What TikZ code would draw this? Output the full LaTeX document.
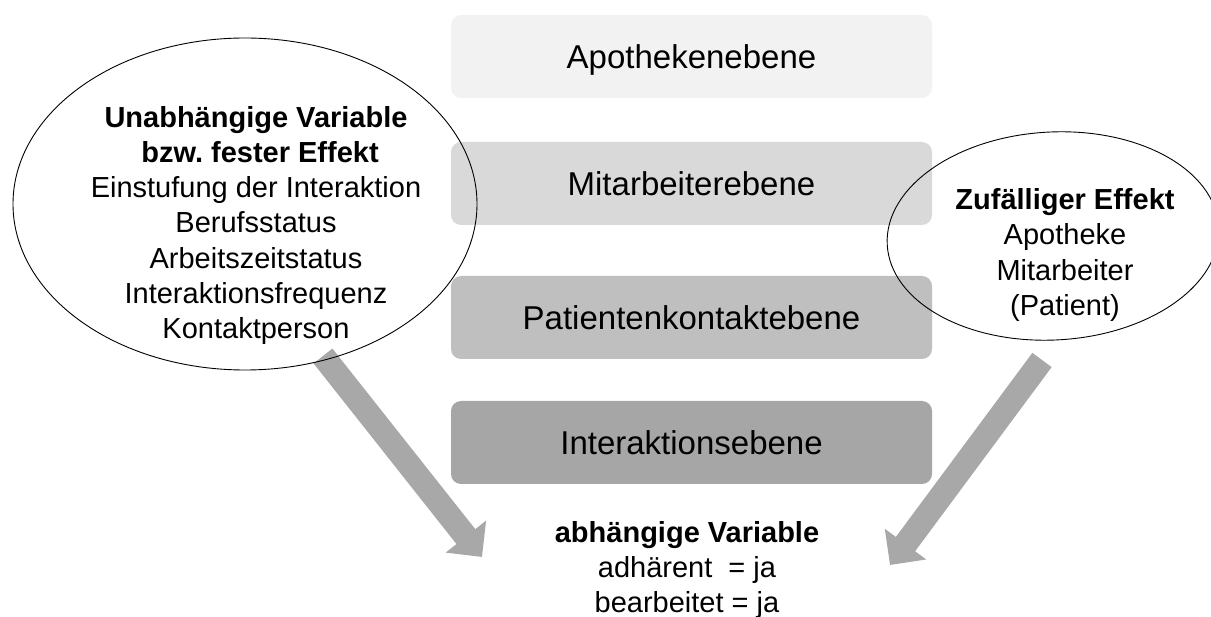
\documentclass[tikz,border=0pt]{standalone}
\usepackage{fontspec}
\setmainfont{Liberation Sans}
\usetikzlibrary{arrows.meta,shapes.geometric}
\definecolor{lvlA}{RGB}{242,242,242}
\definecolor{lvlB}{RGB}{217,217,217}
\definecolor{lvlC}{RGB}{191,191,191}
\definecolor{lvlD}{RGB}{166,166,166}
\definecolor{flowgray}{RGB}{168,168,168}
\frenchspacing
\begin{document}
\begin{tikzpicture}[x=1pt,y=-1pt,
  level/.style={rounded corners=10pt, minimum width=481pt, minimum height=83pt,
    inner sep=0pt, text depth=0pt, font=\fontsize{33}{40}\selectfont},
  oval/.style={draw=black, line width=0.9pt, ellipse, inner sep=0pt},
  textblock/.style={align=center, inner sep=0pt, font=\fontsize{29}{35.3}\selectfont},
  bigarrow/.style={draw=flowgray, line width=24pt,
    -{Triangle[length=26pt,width=50pt]}}
]
\clip (0,0) rectangle (1211,617);

% level boxes
\node[level, fill=lvlA] (apo) at (691.5,56.5)  {Apothekenebene};
\node[level, fill=lvlB] (mit) at (691.5,183.5) {Mitarbeiterebene};
\node[level, fill=lvlC] (pat) at (691.5,317.5) {Patientenkontaktebene};
\node[level, fill=lvlD] (int) at (691.5,442.5) {Interaktionsebene};

% outcome
\node[textblock] (dep) at (687,570)
  {\textbf{abhängige Variable}\\adhärent\ \ = ja\\bearbeitet = ja};

% wide arrows towards the outcome
\coordinate (fixS) at (323,356);
\coordinate (fixT) at (482,557);
\coordinate (rndS) at (1042,360);
\coordinate (rndT) at (890,565);
\draw[bigarrow] (fixS) -- (fixT);
\draw[bigarrow] (rndS) -- (rndT);

% fixed effects
\node[oval, minimum width=464pt, minimum height=332pt] (fixed) at (245,204) {};
\node[textblock] (fixtext) at (256,225.5)
  {\textbf{Unabhängige Variable}\\\textbf{\ bzw. fester Effekt}\\Einstufung der Interaktion\\
   Berufsstatus\\Arbeitszeitstatus\\Interaktionsfrequenz\\Kontaktperson};

% random effects
\node[oval, minimum width=332pt, minimum height=208pt, rotate=3] (random) at (1053,236) {};
\node[textblock] (rndtext) at (1065,255)
  {\textbf{Zufälliger Effekt}\\Apotheke\\Mitarbeiter\\(Patient)};
\end{tikzpicture}
\end{document}
